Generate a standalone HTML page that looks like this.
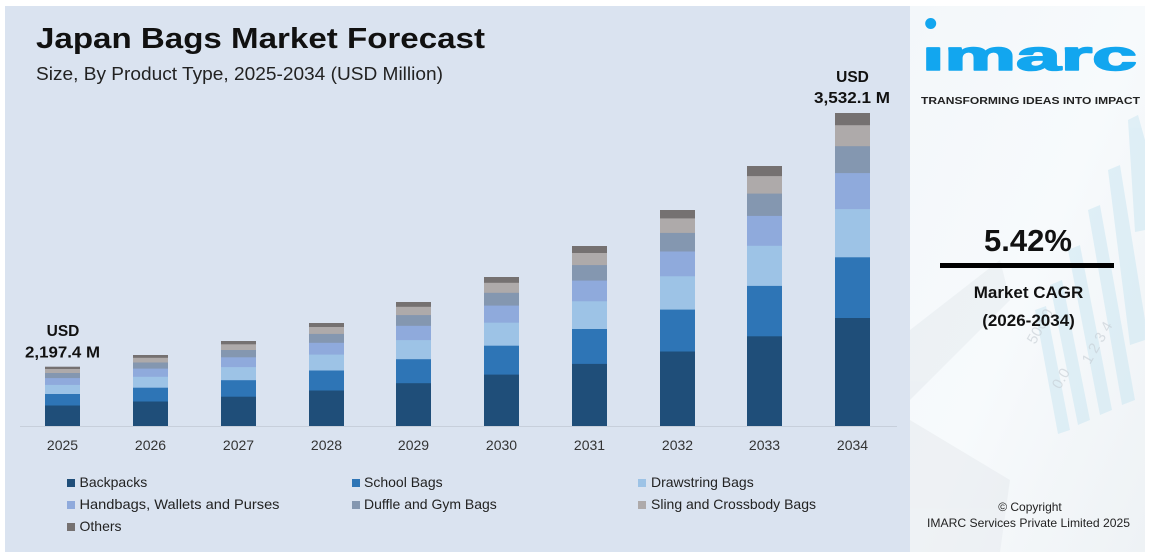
<!DOCTYPE html>
<html><head><meta charset="utf-8"><style>
html,body{margin:0;padding:0;background:#fff;}
svg{display:block;font-family:"Liberation Sans",Arial,sans-serif;}
</style></head><body>
<svg width="1150" height="558" viewBox="0 0 1150 558" xmlns="http://www.w3.org/2000/svg">
<defs>
<linearGradient id="rp" x1="0" y1="0" x2="1" y2="1">
<stop offset="0" stop-color="#f3f7fa"/>
<stop offset="0.5" stop-color="#f7fafc"/>
<stop offset="1" stop-color="#eef2f5"/>
</linearGradient>
</defs>
<rect x="0" y="0" width="1150" height="558" fill="#ffffff"/>
<!-- chart panel -->
<rect x="5" y="6" width="905" height="546" fill="#dae3f0"/>
<!-- right panel -->
<rect x="910" y="6" width="235" height="546" fill="url(#rp)"/>
<g opacity="0.5">
<polygon points="910,330 1000,260 1010,300 910,400" fill="#e4e9ee"/>
<polygon points="910,420 1010,480 1000,552 910,552" fill="#e6eaee"/>
<g fill="#c9e6f2">
<polygon points="1128,120 1138,115 1145,140 1145,230 1135,232"/>
<polygon points="1108,170 1120,165 1145,320 1145,340 1130,345"/>
<polygon points="1088,210 1100,205 1135,400 1122,405"/>
<polygon points="1068,250 1080,245 1112,410 1100,415"/>
<polygon points="1050,285 1062,280 1090,420 1078,425"/>
<polygon points="1035,310 1046,306 1070,430 1058,434"/>
</g>
</g>
<g fill="#c5ccd3" font-size="15" opacity="0.6">
<text x="1035" y="345" transform="rotate(-60 1035 345)">500.0</text>
<text x="1060" y="390" transform="rotate(-60 1060 390)">0.0</text>
<text x="1090" y="365" transform="rotate(-60 1090 365)">1  2  3  4</text>
</g>
<!-- title -->
<text x="36" y="48" font-size="29" font-weight="bold" fill="#111" textLength="449" lengthAdjust="spacingAndGlyphs">Japan Bags Market Forecast</text>
<text x="36" y="80" font-size="18" fill="#222" textLength="407" lengthAdjust="spacingAndGlyphs">Size, By Product Type, 2025-2034 (USD Million)</text>
<!-- axis -->
<line x1="20" y1="426.5" x2="897" y2="426.5" stroke="#c7cfdb" stroke-width="1"/>
<!-- bars -->
<g>
<rect x="45" y="366.7" width="35" height="59.3" fill="#757171"/>
<rect x="45" y="369.0" width="35" height="57.0" fill="#aeaaaa"/>
<rect x="45" y="373.0" width="35" height="53.0" fill="#8497b0"/>
<rect x="45" y="378.1" width="35" height="47.9" fill="#8faadc"/>
<rect x="45" y="384.9" width="35" height="41.1" fill="#9dc3e6"/>
<rect x="45" y="394.0" width="35" height="32.0" fill="#2e75b6"/>
<rect x="45" y="405.5" width="35" height="20.5" fill="#1f4e79"/>

<rect x="133" y="355" width="35" height="71" fill="#757171"/>
<rect x="133" y="357.8" width="35" height="68.2" fill="#aeaaaa"/>
<rect x="133" y="362.5" width="35" height="63.5" fill="#8497b0"/>
<rect x="133" y="368.6" width="35" height="57.4" fill="#8faadc"/>
<rect x="133" y="376.8" width="35" height="49.2" fill="#9dc3e6"/>
<rect x="133" y="387.7" width="35" height="38.3" fill="#2e75b6"/>
<rect x="133" y="401.5" width="35" height="24.5" fill="#1f4e79"/>

<rect x="221" y="341" width="35" height="85" fill="#757171"/>
<rect x="221" y="344.3" width="35" height="81.7" fill="#aeaaaa"/>
<rect x="221" y="350.0" width="35" height="76.0" fill="#8497b0"/>
<rect x="221" y="357.3" width="35" height="68.7" fill="#8faadc"/>
<rect x="221" y="367.1" width="35" height="58.9" fill="#9dc3e6"/>
<rect x="221" y="380.2" width="35" height="45.8" fill="#2e75b6"/>
<rect x="221" y="396.7" width="35" height="29.3" fill="#1f4e79"/>

<rect x="309" y="323" width="35" height="103" fill="#757171"/>
<rect x="309" y="327.0" width="35" height="99.0" fill="#aeaaaa"/>
<rect x="309" y="333.9" width="35" height="92.1" fill="#8497b0"/>
<rect x="309" y="342.8" width="35" height="83.2" fill="#8faadc"/>
<rect x="309" y="354.6" width="35" height="71.4" fill="#9dc3e6"/>
<rect x="309" y="370.5" width="35" height="55.5" fill="#2e75b6"/>
<rect x="309" y="390.5" width="35" height="35.5" fill="#1f4e79"/>

<rect x="396" y="302" width="35" height="124" fill="#757171"/>
<rect x="396" y="306.8" width="35" height="119.2" fill="#aeaaaa"/>
<rect x="396" y="315.1" width="35" height="110.9" fill="#8497b0"/>
<rect x="396" y="325.8" width="35" height="100.2" fill="#8faadc"/>
<rect x="396" y="340.1" width="35" height="85.9" fill="#9dc3e6"/>
<rect x="396" y="359.2" width="35" height="66.8" fill="#2e75b6"/>
<rect x="396" y="383.2" width="35" height="42.8" fill="#1f4e79"/>

<rect x="484" y="277" width="35" height="149" fill="#757171"/>
<rect x="484" y="282.8" width="35" height="143.2" fill="#aeaaaa"/>
<rect x="484" y="292.8" width="35" height="133.2" fill="#8497b0"/>
<rect x="484" y="305.6" width="35" height="120.4" fill="#8faadc"/>
<rect x="484" y="322.7" width="35" height="103.3" fill="#9dc3e6"/>
<rect x="484" y="345.7" width="35" height="80.3" fill="#2e75b6"/>
<rect x="484" y="374.6" width="35" height="51.4" fill="#1f4e79"/>

<rect x="572" y="246" width="35" height="180" fill="#757171"/>
<rect x="572" y="253.0" width="35" height="173.0" fill="#aeaaaa"/>
<rect x="572" y="265.1" width="35" height="160.9" fill="#8497b0"/>
<rect x="572" y="280.6" width="35" height="145.4" fill="#8faadc"/>
<rect x="572" y="301.3" width="35" height="124.7" fill="#9dc3e6"/>
<rect x="572" y="329.0" width="35" height="97.0" fill="#2e75b6"/>
<rect x="572" y="363.9" width="35" height="62.1" fill="#1f4e79"/>

<rect x="660" y="210" width="35" height="216" fill="#757171"/>
<rect x="660" y="218.4" width="35" height="207.6" fill="#aeaaaa"/>
<rect x="660" y="232.9" width="35" height="193.1" fill="#8497b0"/>
<rect x="660" y="251.5" width="35" height="174.5" fill="#8faadc"/>
<rect x="660" y="276.3" width="35" height="149.7" fill="#9dc3e6"/>
<rect x="660" y="309.6" width="35" height="116.4" fill="#2e75b6"/>
<rect x="660" y="351.5" width="35" height="74.5" fill="#1f4e79"/>

<rect x="747" y="166" width="35" height="260" fill="#757171"/>
<rect x="747" y="176.1" width="35" height="249.9" fill="#aeaaaa"/>
<rect x="747" y="193.6" width="35" height="232.4" fill="#8497b0"/>
<rect x="747" y="215.9" width="35" height="210.1" fill="#8faadc"/>
<rect x="747" y="245.8" width="35" height="180.2" fill="#9dc3e6"/>
<rect x="747" y="285.9" width="35" height="140.1" fill="#2e75b6"/>
<rect x="747" y="336.3" width="35" height="89.7" fill="#1f4e79"/>

<rect x="835" y="113" width="35" height="313" fill="#757171"/>
<rect x="835" y="125.2" width="35" height="300.8" fill="#aeaaaa"/>
<rect x="835" y="146.2" width="35" height="279.8" fill="#8497b0"/>
<rect x="835" y="173.1" width="35" height="252.9" fill="#8faadc"/>
<rect x="835" y="209.1" width="35" height="216.9" fill="#9dc3e6"/>
<rect x="835" y="257.3" width="35" height="168.7" fill="#2e75b6"/>
<rect x="835" y="318.0" width="35" height="108.0" fill="#1f4e79"/>
</g>
<!-- year labels -->
<g font-size="14" fill="#333" text-anchor="middle">
<text x="62.5" y="450">2025</text>
<text x="150.5" y="450">2026</text>
<text x="238.5" y="450">2027</text>
<text x="326.5" y="450">2028</text>
<text x="413.5" y="450">2029</text>
<text x="501.5" y="450">2030</text>
<text x="589.5" y="450">2031</text>
<text x="677.5" y="450">2032</text>
<text x="764.5" y="450">2033</text>
<text x="852.5" y="450">2034</text>
</g>
<!-- value labels -->
<g font-size="15.5" font-weight="bold" fill="#111" text-anchor="middle">
<text x="63" y="336">USD</text>
<text x="62.5" y="357.5" textLength="75" lengthAdjust="spacingAndGlyphs">2,197.4 M</text>
<text x="852.5" y="82">USD</text>
<text x="852" y="103" textLength="76" lengthAdjust="spacingAndGlyphs">3,532.1 M</text>
</g>
<!-- legend -->
<g font-size="14" fill="#222">
<rect x="67" y="479" width="8" height="8" fill="#1f4e79"/>
<text x="79.5" y="487">Backpacks</text>
<rect x="352" y="479" width="8" height="8" fill="#2e75b6"/>
<text x="364" y="487">School Bags</text>
<rect x="638" y="479" width="8" height="8" fill="#9dc3e6"/>
<text x="651" y="487">Drawstring Bags</text>
<rect x="67" y="501" width="8" height="8" fill="#8faadc"/>
<text x="79.5" y="509" textLength="200" lengthAdjust="spacingAndGlyphs">Handbags, Wallets and Purses</text>
<rect x="352" y="501" width="8" height="8" fill="#8497b0"/>
<text x="364" y="509">Duffle and Gym Bags</text>
<rect x="638" y="501" width="8" height="8" fill="#aeaaaa"/>
<text x="651" y="509">Sling and Crossbody Bags</text>
<rect x="67" y="523" width="8" height="8" fill="#757171"/>
<text x="79.5" y="531">Others</text>
</g>
<!-- logo -->
<circle cx="930.7" cy="23.5" r="5.5" fill="#12a6ef"/>
<text x="922" y="70" font-size="42" font-weight="bold" fill="#12a6ef" stroke="#12a6ef" stroke-width="1.6" stroke-linejoin="round" textLength="215" lengthAdjust="spacingAndGlyphs">ımarc</text>
<text x="921" y="104" font-size="10" font-weight="bold" fill="#222" textLength="219" lengthAdjust="spacingAndGlyphs">TRANSFORMING IDEAS INTO IMPACT</text>
<!-- CAGR -->
<text x="1028" y="251" font-size="31" font-weight="bold" fill="#111" text-anchor="middle">5.42%</text>
<rect x="940" y="263" width="174" height="5" fill="#000"/>
<text x="1028.5" y="298" font-size="17" font-weight="bold" fill="#111" text-anchor="middle">Market CAGR</text>
<text x="1028.5" y="326" font-size="17" font-weight="bold" fill="#111" text-anchor="middle">(2026-2034)</text>
<!-- copyright -->
<text x="1030" y="511" font-size="12" fill="#222" text-anchor="middle">© Copyright</text>
<text x="1028.5" y="527" font-size="12" fill="#222" text-anchor="middle" textLength="203" lengthAdjust="spacingAndGlyphs">IMARC Services Private Limited 2025</text>
</svg>
</body></html>
